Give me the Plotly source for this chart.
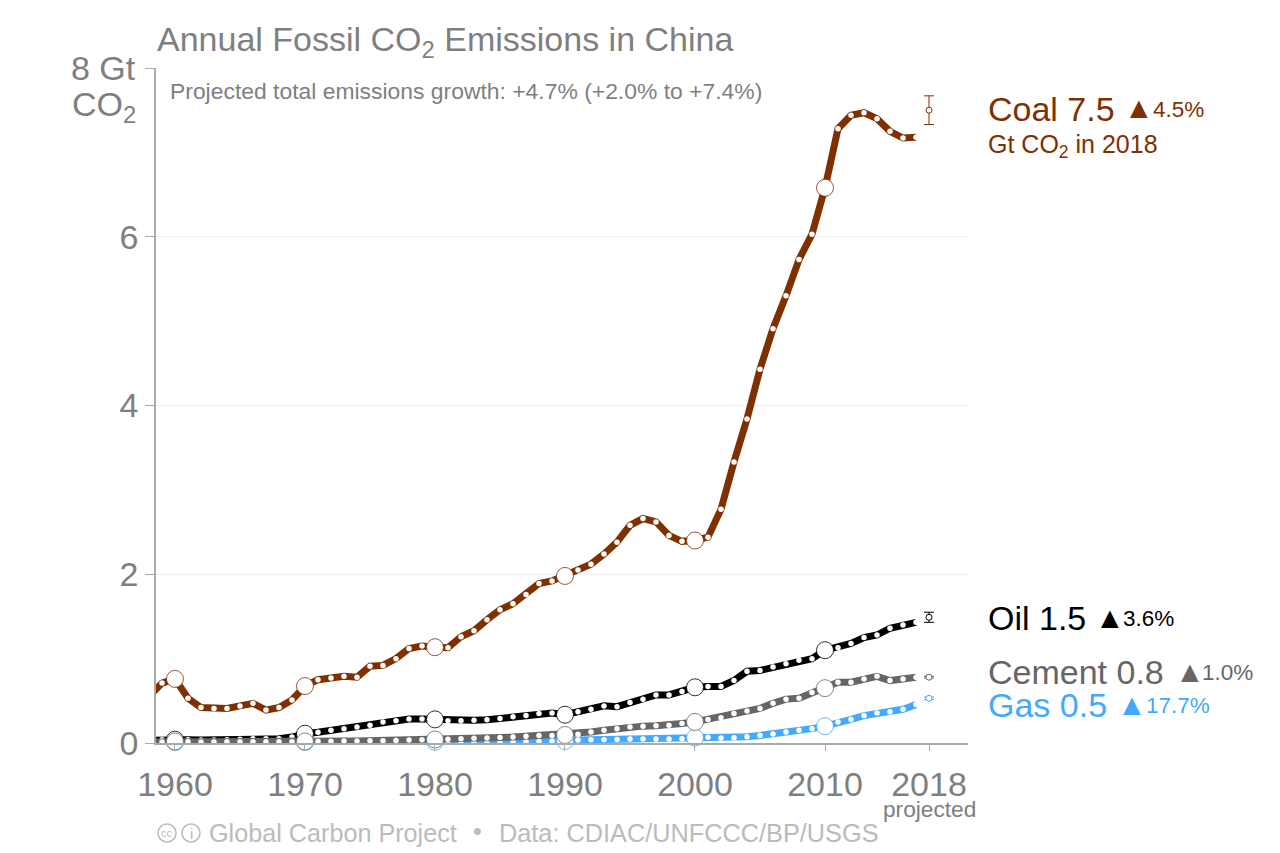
import plotly.graph_objects as go

YEARS = list(range(1958, 2018))
COAL = [0.55, 0.71, 0.76, 0.53, 0.42, 0.41, 0.41, 0.44, 0.47, 0.39, 0.42, 0.51,
        0.675, 0.75, 0.77, 0.79, 0.78, 0.91, 0.92, 1.0, 1.12, 1.15,
        1.135, 1.13, 1.26, 1.33, 1.46, 1.58, 1.65, 1.76, 1.89, 1.92,
        1.98, 2.05, 2.12, 2.24, 2.38, 2.58, 2.66, 2.62, 2.46, 2.39,
        2.40, 2.44, 2.77, 3.33, 3.84, 4.43, 4.91, 5.30, 5.73, 6.03,
        6.58, 7.28, 7.44, 7.47, 7.40, 7.25, 7.17, 7.18]
OIL = [0.03, 0.04, 0.04, 0.04, 0.035, 0.035, 0.04, 0.045, 0.05, 0.05, 0.05, 0.07,
       0.11, 0.127, 0.15, 0.17, 0.19, 0.21, 0.25, 0.265, 0.285, 0.285,
       0.28, 0.265, 0.265, 0.27, 0.275, 0.29, 0.31, 0.325, 0.35, 0.355,
       0.335, 0.37, 0.40, 0.44, 0.43, 0.48, 0.52, 0.57, 0.57, 0.61,
       0.66, 0.67, 0.67, 0.74, 0.85, 0.86, 0.90, 0.94, 0.98, 1.0,
       1.10, 1.13, 1.18, 1.25, 1.28, 1.36, 1.40, 1.43]
CEMENT = [0.01, 0.012, 0.018, 0.015, 0.012, 0.012, 0.014, 0.015, 0.016, 0.014, 0.014, 0.016,
          0.018, 0.02, 0.022, 0.024, 0.024, 0.026, 0.028, 0.03, 0.035, 0.04,
          0.042, 0.045, 0.05, 0.055, 0.06, 0.065, 0.07, 0.08, 0.09, 0.09,
          0.095, 0.105, 0.13, 0.15, 0.17, 0.19, 0.20, 0.205, 0.21, 0.23,
          0.25, 0.28, 0.30, 0.35, 0.38, 0.41, 0.47, 0.52, 0.53, 0.60,
          0.65, 0.72, 0.72, 0.76, 0.79, 0.74, 0.76, 0.78]
GAS = [0.004, 0.006, 0.01, 0.01, 0.008, 0.008, 0.008, 0.008, 0.009, 0.009, 0.009, 0.01,
       0.012, 0.012, 0.012, 0.012, 0.012, 0.013, 0.013, 0.014, 0.014, 0.015,
       0.015, 0.014, 0.014, 0.014, 0.015, 0.016, 0.017, 0.018, 0.019, 0.02,
       0.024, 0.035, 0.038, 0.04, 0.042, 0.047, 0.047, 0.047, 0.047, 0.05,
       0.063, 0.067, 0.06, 0.063, 0.075, 0.09, 0.107, 0.13, 0.15, 0.17,
       0.20, 0.25, 0.28, 0.325, 0.355, 0.37, 0.40, 0.455]

PROJ_YEAR = [2018]
COAL_2018, COAL_ERR = [7.5], [0.17]
OIL_2018, OIL_ERR = [1.49], [0.06]
CEMENT_2018, CEMENT_ERR = [0.78], [0.01]
GAS_2018, GAS_ERR = [0.53], [0.015]

DECADES = [1960, 1970, 1980, 1990, 2000, 2010]
X_TICKS = [1960, 1970, 1980, 1990, 2000, 2010, 2018]
Y_TICKS = [0, 2, 4, 6, 8]
Y_LABELS = ["0", "2", "4", "6", " "]

BROWN, BLACK, GRAY, BLUE = "#7f3000", "#000000", "#666666", "#43a9ff"
TXT = "#7f7f7f"
FONT = "Liberation Sans"

SERIES = [
    (COAL, COAL_2018, COAL_ERR, BROWN, "Coal"),
    (GAS, GAS_2018, GAS_ERR, BLUE, "Gas"),
    (OIL, OIL_2018, OIL_ERR, BLACK, "Oil"),
    (CEMENT, CEMENT_2018, CEMENT_ERR, GRAY, "Cement"),
]

fig = go.Figure()
for vals, proj, err, col, name in SERIES:
    fig.add_trace(go.Scatter(x=YEARS, y=vals, mode="lines", name=name,
                             line=dict(color=col, width=7), showlegend=False))
    small = [(y, v) for y, v in zip(YEARS, vals) if y >= 1959]
    fig.add_trace(go.Scatter(x=[p[0] for p in small], y=[p[1] for p in small], mode="markers",
                             marker=dict(color="white", size=5.5), cliponaxis=False, showlegend=False))
    big = [(y, v) for y, v in zip(YEARS, vals) if y in DECADES]
    fig.add_trace(go.Scatter(x=[p[0] for p in big], y=[p[1] for p in big], mode="markers",
                             marker=dict(color="white", size=17, line=dict(color=col, width=0.8)),
                             cliponaxis=False, showlegend=False))
    fig.add_trace(go.Scatter(x=PROJ_YEAR, y=proj, mode="markers",
                             marker=dict(color="white", size=6, line=dict(color=col, width=1)),
                             error_y=dict(type="data", array=err, color=col, thickness=1, width=5),
                             cliponaxis=False, showlegend=False))

PL, PR, PT, PB = 156, 968, 68, 743


def text_px(x, y, text, size, color=TXT, anchor="left"):
    fig.add_annotation(x=(x - PL) / (PR - PL), y=(PB - y) / (PB - PT), xref="paper", yref="paper",
                       text=text, showarrow=False, xanchor=anchor, yanchor="middle",
                       font=dict(family=FONT, size=size, color=color), align=anchor,
                       borderpad=0)


text_px(156, 42, "Annual Fossil CO<sub>2</sub> Emissions in China", 34)
text_px(137, 68, "8 Gt", 34, anchor="right")
text_px(137, 106, "CO<sub>2</sub>", 34, anchor="right")
text_px(169, 91, "Projected total emissions growth: +4.7% (+2.0% to +7.4%)", 22.9)
text_px(929, 809, "projected", 22.7, anchor="center")

text_px(987, 109, "Coal 7.5", 34, BROWN)
text_px(1123, 108, "▲", 30, BROWN)
text_px(1152, 110, "4.5%", 22.5, BROWN)
text_px(987, 146, "Gt CO<sub>2</sub> in 2018", 25, BROWN)

text_px(987, 618, "Oil 1.5", 34, BLACK)
text_px(1094, 617, "▲", 30, BLACK)
text_px(1122, 618, "3.6%", 22.5, BLACK)

text_px(987, 672, "Cement 0.8", 34, GRAY)
text_px(1174, 671, "▲", 30, GRAY)
text_px(1201, 672, "1.0%", 22.5, GRAY)

text_px(987, 705, "Gas 0.5", 34, BLUE)
text_px(1116, 704, "▲", 30, BLUE)
text_px(1145, 705, "17.7%", 22.5, BLUE)

FOOT = "#bbbbbb"
text_px(208, 833, "Global Carbon Project", 25.2, FOOT)
text_px(472, 831, "•", 25, FOOT)
text_px(498, 833, "Data: CDIAC/UNFCCC/BP/USGS", 25.3, FOOT)
text_px(167, 833, "cc", 11, FOOT, anchor="center")
text_px(191, 833, "i", 15, FOOT, anchor="center")
for cx in (167, 191):
    fig.add_shape(type="circle", xref="paper", yref="paper", line=dict(color=FOOT, width=1.5),
                  x0=(cx - 9 - PL) / (PR - PL), x1=(cx + 9 - PL) / (PR - PL),
                  y0=(PB - 842) / (PB - PT), y1=(PB - 824) / (PB - PT))

fig.update_layout(
    width=1280, height=853, autosize=False,
    margin=dict(l=PL, r=1280 - PR, t=PT, b=853 - PB, pad=0),
    plot_bgcolor="white", paper_bgcolor="white", showlegend=False,
    font=dict(family=FONT, color=TXT),
    xaxis=dict(range=[1958.54, 2021.0], tickmode="array", tickvals=X_TICKS, showgrid=False,
               zeroline=False, showline=True, linecolor="#aaaaaa", linewidth=1.5,
               ticks="outside", ticklen=6, tickcolor="#aaaaaa", tickwidth=1, ticklabelstandoff=4,
               tickfont=dict(size=34, color=TXT, family=FONT)),
    yaxis=dict(range=[0, 8], tickmode="array", tickvals=Y_TICKS, ticktext=Y_LABELS,
               showgrid=True, gridcolor="#eeeeee", gridwidth=1, zeroline=False,
               showline=True, linecolor="#aaaaaa", linewidth=1.5,
               ticks="outside", ticklen=9, tickcolor="#aaaaaa", tickwidth=1,
               tickfont=dict(size=34, color=TXT, family=FONT)),
)

fig.write_html("out.html", config={"displayModeBar": False},
               post_script="document.body.style.margin='0';")
